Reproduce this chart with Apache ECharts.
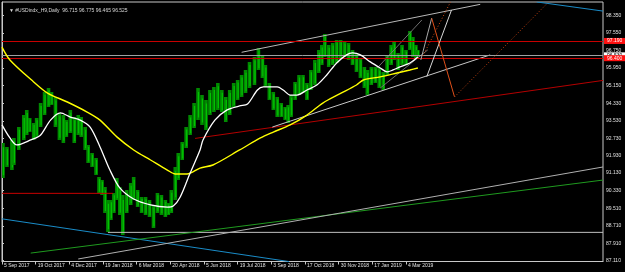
<!DOCTYPE html>
<html><head><meta charset="utf-8">
<script src="https://cdn.jsdelivr.net/npm/echarts@6/dist/echarts.min.js"></script>
<style>html,body{margin:0;padding:0;background:#000}#c{width:625px;height:272px}</style>
</head><body><div id="c"></div>
<script>
const chartTitle = '\u25BC #USDindx_H9,Daily  96.715 96.775 96.465 96.525';
const xTicks = [0,34,68,102,136,170,204,238,272,306,340,374,408];
const xTickLabels = ['5 Sep 2017','19 Oct 2017','4 Dec 2017','19 Jan 2018','6 Mar 2018','20 Apr 2018','5 Jun 2018','19 Jul 2018','3 Sep 2018','17 Oct 2018','30 Nov 2018','17 Jan 2019','4 Mar 2019'];
const yTicks = [87.110,87.910,88.710,89.510,90.330,91.130,91.930,92.730,93.530,94.330,95.150,95.950,96.750,97.550,98.350];

// price bars (bar index, high, low)
const candleBar = [1,5,10,12,17,22,25,28,32,35,39,43,47,50,54,58,62,65,69,73,77,80,84,87,91,95,98,101,104,107,110,113,116,119,122,126,130,133,137,141,145,149,153,157,161,165,168,171,175,178,182,186,190,194,198,202,206,210,214,218,222,226,230,234,238,242,246,250,255,259,263,266,270,274,278,282,286,289,292,296,300,304,308,312,316,320,323,326,330,334,338,342,346,350,354,358,362,366,369,373,377,381,385,389,393,396,400,404,408,412,415,418,420];
const candleHigh = [92.51,92.33,92.65,92.74,93.24,93.79,94.02,93.66,93.43,93.66,94.34,94.85,95.03,94.85,94.62,93.89,93.79,93.56,94.02,93.70,93.79,93.70,93.24,92.42,92.05,91.82,90.95,90.81,90.49,89.90,89.90,90.22,90.90,90.49,90.12,90.35,90.67,90.95,90.35,90.03,90.03,89.90,89.67,90.22,90.12,89.90,89.76,90.35,91.41,92.05,92.56,93.24,93.79,94.34,95.03,94.71,94.48,94.94,95.08,95.26,94.94,94.62,94.94,95.26,95.40,95.63,95.86,96.23,96.45,96.87,96.55,96.09,95.26,94.85,94.62,94.34,94.16,94.25,94.71,95.31,95.63,95.63,95.26,95.86,96.32,96.78,97.00,97.51,97.00,97.10,97.23,97.23,97.14,97.10,96.78,96.64,96.41,96.00,95.86,96.00,96.00,95.95,95.77,96.55,97.00,97.14,96.64,97.00,96.78,97.65,97.37,97.00,96.775];
const candleLow = [90.90,91.41,91.27,91.50,92.19,92.65,92.88,93.01,92.65,92.79,93.24,93.79,94.16,94.25,93.24,92.65,92.51,92.79,92.97,92.51,92.88,92.79,92.19,91.59,91.41,91.04,90.22,90.12,89.30,88.43,88.98,89.30,89.90,89.21,88.29,89.30,89.67,89.90,89.57,89.30,89.21,89.12,88.61,89.30,89.21,89.12,89.21,89.30,89.90,90.81,91.73,92.28,92.88,93.20,93.56,93.34,93.11,93.79,93.93,94.02,93.93,93.47,93.79,94.16,94.48,94.62,94.80,95.03,95.17,95.86,95.49,95.08,94.48,94.02,93.70,93.70,93.56,93.43,93.70,94.48,94.71,94.80,94.48,94.94,95.17,95.72,96.09,96.45,96.00,96.09,96.18,96.41,96.45,96.32,96.09,95.77,95.49,95.03,94.71,95.17,95.26,95.03,94.94,95.63,96.09,96.32,95.86,96.09,96.09,96.78,96.45,96.41,96.465];

// moving averages (bar index, value)
const maFastBar = [0,8,15,29,39,49,59,69,79,89,99,109,119,133,150,167,173,180,190,200,203,215,227,240,248,258,264,278,284,291,298,308,318,328,338,348,354,362,372,382,389,395,402,412,420];
const maFastVal = [93.34,92.74,92.42,92.65,92.88,93.56,93.89,93.70,93.56,93.24,92.33,91.27,90.45,89.94,89.67,89.57,89.62,90.03,91.13,92.19,92.65,93.56,94.02,94.21,94.30,94.94,95.08,95.08,94.94,94.71,94.71,94.94,95.17,95.63,96.18,96.55,96.64,96.55,96.23,95.95,95.77,95.86,96.00,96.18,96.45];
const maSlowBar = [0,8,32,46,66,86,99,116,133,150,167,175,187,200,213,240,261,274,291,308,324,341,358,365,382,399,412,420];
const maSlowVal = [96.91,96.32,95.31,94.80,94.39,93.93,93.56,92.79,92.19,91.73,91.27,91.09,91.09,91.36,91.50,92.19,92.74,93.01,93.34,93.79,94.34,94.76,95.17,95.40,95.54,95.72,95.86,95.95];

// horizontal levels
const levelRed = [97.190, 96.400];
const bidPrice = 96.525;

// trendlines: [bar, price] endpoints
const supportRedShort = [[0, 90.20], [112, 90.20]];
const greyFloor = [[107, 88.41], [607, 88.41]];
const redRising = [[195, 92.72], [607, 95.38]];
const blueLower = [[0, 89.03], [290, 87.07]];
const blueUpper = [[540, 98.98], [607, 98.56]];
const greenRising = [[29, 87.46], [607, 90.81]];
const greyRising = [[77, 87.19], [607, 91.41]];
const channelUpper = [[242, 96.67], [483, 98.87]];
const channelLower = [[273, 93.24], [493, 96.55]];
const innerUpper = [[379, 95.95], [424, 98.15]];
const innerLower = [[382, 95.03], [430, 96.78]];
const zigGrey = [[423, 96.32], [434, 98.24]];
const zigWhite = [[429, 95.55], [454, 98.61]];
const zigOrange = [[434, 98.23], [457, 94.63]];
const dotOrangeA = [[425, 96.50], [453, 98.98]];
const dotOrangeB = [[457, 94.62], [551, 98.93]];

const FONT = 'Liberation Sans';
const X_MIN = 0, X_MAX = 607, Y_MIN = 87.074, Y_MAX = 98.977;

function seg(name, pts, color, width, type, z) {
  return {
    type: 'line', name, data: pts, symbol: 'none', silent: true, animation: false,
    lineStyle: { color, width, type: type || 'solid' }, z: z || 4, clip: true
  };
}

const chart = echarts.init(document.getElementById('c'), null, { renderer: 'canvas' });
const boxLabel = (bg, fg) => ({
  show: true, position: 'end', distance: 1, backgroundColor: bg, color: fg,
  fontSize: 5, fontFamily: FONT, padding: [1, 3, 0, 3],
  formatter: p => Number(p.value).toFixed(3)
});

chart.setOption({
  backgroundColor: '#000',
  animation: false,
  title: {
    text: chartTitle, left: 4, top: 3,
    textStyle: { color: '#d8d8d8', fontSize: 5, fontWeight: 'normal', fontFamily: FONT }
  },
  grid: { left: 2, right: 22, top: 2, bottom: 10.5, show: true, borderColor: '#c8c8c8', borderWidth: 1, backgroundColor: '#000' },
  xAxis: {
    type: 'value', min: X_MIN, max: X_MAX,
    axisLine: { show: true, lineStyle: { color: '#c8c8c8', width: 1 } },
    axisTick: { show: true, length: 3, customValues: xTicks, lineStyle: { color: '#c8c8c8' } },
    axisLabel: {
      customValues: xTicks, formatter: v => xTickLabels[xTicks.indexOf(v)] || '',
      color: '#e0e0e0', fontSize: 5, fontFamily: FONT, align: 'left', margin: 2, padding: [0, 0, 0, 2]
    },
    splitLine: { show: false }
  },
  yAxis: {
    type: 'value', position: 'right', min: Y_MIN, max: Y_MAX, scale: true,
    axisLine: { show: true, lineStyle: { color: '#c8c8c8', width: 1 } },
    axisTick: { show: true, length: 2, customValues: yTicks, lineStyle: { color: '#c8c8c8' } },
    axisLabel: {
      customValues: yTicks, formatter: v => Number(v).toFixed(3),
      color: '#e0e0e0', fontSize: 5, fontFamily: FONT, margin: 3
    },
    splitLine: { show: false }
  },
  series: [
    {
      type: 'custom', name: 'price', silent: true, animation: false, z: 2, clip: true,
      data: candleBar.map((b, i) => [b, candleLow[i], candleHigh[i]]),
      encode: { x: 0, y: [1, 2] },
      renderItem(params, api) {
        const b = api.value(0);
        const top = api.coord([b, api.value(2)]);
        const bot = api.coord([b, api.value(1)]);
        const w = 3.6;
        const h = Math.max(1, bot[1] - top[1]);
        return {
          type: 'group', children: [
            { type: 'rect', shape: { x: top[0] - w / 2, y: top[1], width: w, height: h }, style: { fill: '#008a00' } },
            { type: 'line', shape: { x1: top[0] + 0.5, y1: top[1] + h * 0.12, x2: top[0] + 0.5, y2: bot[1] - h * 0.08 }, style: { stroke: '#00c400', lineWidth: 1.2 } }
          ]
        };
      }
    },
    seg('redShort', supportRedShort, '#c80000', 1, 'solid', 3),
    seg('greyFloor', greyFloor, '#c0c0c0', 1, 'solid', 3),
    seg('redRising', redRising, '#b40000', 1, 'solid', 3),
    seg('blueLower', blueLower, '#1a8cc8', 1, 'solid', 3),
    seg('blueUpper', blueUpper, '#1a8cc8', 1, 'solid', 3),
    seg('greenRising', greenRising, '#1f9a1f', 1, 'solid', 3),
    seg('greyRising', greyRising, '#b0b0b0', 1, 'solid', 3),
    seg('channelUpper', channelUpper, '#b8b8b8', 1, 'solid', 3),
    seg('channelLower', channelLower, '#c8c8c8', 1, 'solid', 3),
    seg('innerUpper', innerUpper, '#707070', 1, 'solid', 3),
    seg('innerLower', innerLower, '#707070', 1, 'solid', 3),
    seg('zigGrey', zigGrey, '#a8a8a8', 1, 'solid', 5),
    seg('zigWhite', zigWhite, '#d8d8d8', 1, 'solid', 5),
    seg('zigOrange', zigOrange, '#e0501a', 1, 'solid', 5),
    seg('dotOrangeA', dotOrangeA, '#d04a14', 1, [1, 2], 5),
    seg('dotOrangeB', dotOrangeB, '#c04010', 1, [1, 2], 5),
    {
      type: 'line', name: 'maSlow', data: maSlowBar.map((b, i) => [b, maSlowVal[i]]),
      symbol: 'none', smooth: 0.3, silent: true, animation: false, z: 6,
      lineStyle: { color: '#ffff00', width: 1.4 }
    },
    {
      type: 'line', name: 'maFast', data: maFastBar.map((b, i) => [b, maFastVal[i]]),
      symbol: 'none', smooth: 0.3, silent: true, animation: false, z: 6,
      lineStyle: { color: '#ffffff', width: 1.3 },
      markLine: {
        silent: true, animation: false, symbol: ['none', 'none'],
        data: [
          { yAxis: levelRed[0], lineStyle: { color: '#c80000', width: 1, type: 'solid' }, label: boxLabel('#ff1010', '#ffffff') },
          { yAxis: bidPrice, lineStyle: { color: '#a0a0a0', width: 1, type: 'solid' }, label: boxLabel('#ffffff', '#000000') },
          { yAxis: levelRed[1], lineStyle: { color: '#c80000', width: 1, type: 'solid' }, label: boxLabel('#ff1010', '#ffffff') }
        ]
      }
    }
  ]
});
</script>
</body></html>
